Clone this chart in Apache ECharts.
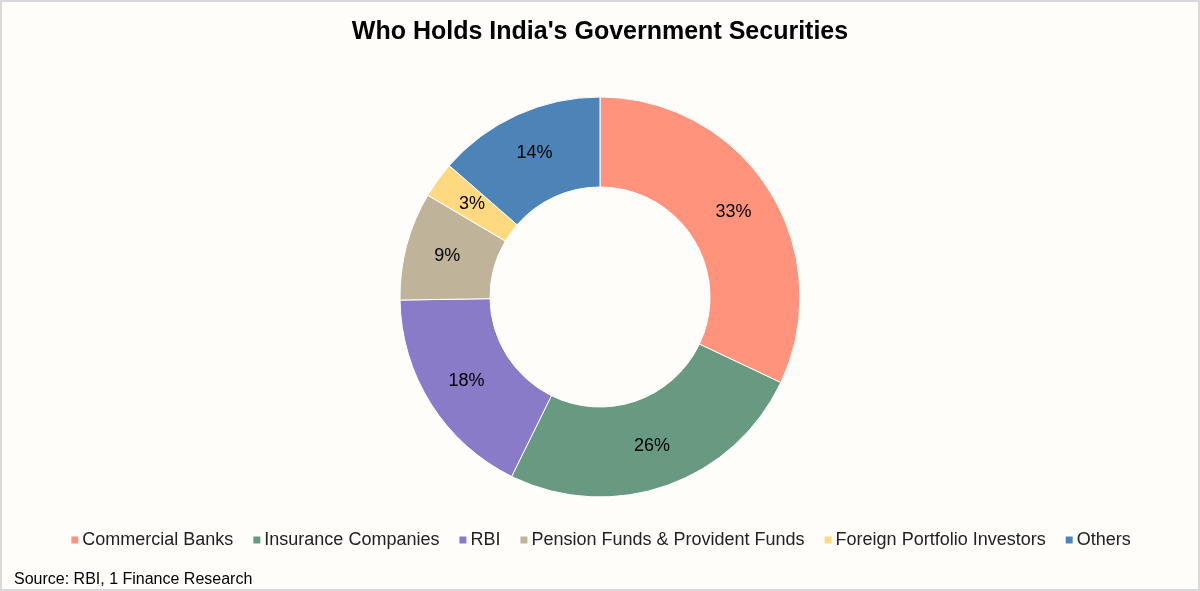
<!DOCTYPE html>
<html>
<head>
<meta charset="utf-8">
<script src="https://cdn.jsdelivr.net/npm/echarts@6/dist/echarts.min.js"></script>
<style>
  html, body { margin: 0; padding: 0; background: #fefdfa; }
  #chart { width: 1200px; height: 591px; box-sizing: border-box; border: 2px solid #d9d9d9; }
</style>
</head>
<body>
<div id="chart"></div>
<script>
// holders and their share (%)
const categories = ['Commercial Banks', 'Insurance Companies', 'RBI', 'Pension Funds & Provident Funds', 'Foreign Portfolio Investors', 'Others'];
const shares = [33, 26, 18, 9, 3, 14];
const colors = ['#ff937c', '#689a82', '#8a7bc8', '#bfb49a', '#ffd97f', '#4d84b8'];

const chart = echarts.init(document.getElementById('chart'), null, { renderer: 'canvas' });

chart.setOption({
  backgroundColor: '#fefdfa',
  textStyle: { fontFamily: 'Liberation Sans, Arial, sans-serif' },
  title: {
    text: "Who Holds India's Government Securities",
    left: 'center',
    top: 13,
    textStyle: { fontSize: 25, fontWeight: 'bold', color: '#000', fontFamily: 'Liberation Sans, Arial, sans-serif' }
  },
  legend: {
    data: categories,
    bottom: 35,
    left: 'center',
    icon: 'rect',
    itemWidth: 9,
    itemHeight: 9,
    itemGap: 18,
    textStyle: { fontSize: 18, color: '#222', padding: [0, 0, 0, -2] }
  },
  graphic: [{
    type: 'text',
    left: 12,
    bottom: 1,
    style: { text: 'Source: RBI, 1 Finance Research', fontSize: 16, fill: '#000', font: '16px Liberation Sans, Arial, sans-serif' }
  }],
  series: [{
    type: 'pie',
    center: [598, 295],
    radius: [110, 200],
    startAngle: 90,
    clockwise: true,
    avoidLabelOverlap: false,
    itemStyle: { borderColor: '#ffffff', borderWidth: 1 },
    label: {
      show: true,
      position: 'inside',
      formatter: p => p.value + '%',
      fontSize: 18,
      color: '#000'
    },
    labelLine: { show: false },
    emphasis: { disabled: true },
    data: categories.map((name, i) => ({ name, value: shares[i], itemStyle: { color: colors[i] } }))
  }]
});
</script>
</body>
</html>
